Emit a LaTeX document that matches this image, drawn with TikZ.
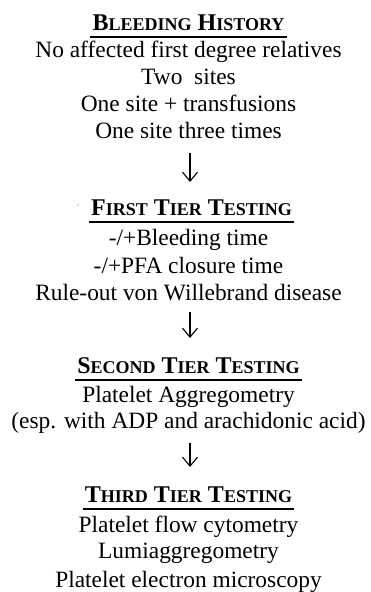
\documentclass[tikz,border=0pt]{standalone}
\usepackage{fontspec}
\setmainfont{Liberation Serif}
\newfontfamily\tnr{Liberation Serif}
\usetikzlibrary{arrows.meta,calc}
\newcommand\hsc[2]{{\fontsize{24}{24}\selectfont #1}{\fontsize{18}{18}\selectfont #2}}
\begin{document}
\begin{tikzpicture}[x=1pt,y=-1pt,
  body/.style={anchor=base,inner sep=0pt,font=\tnr\fontsize{23.4}{27}\selectfont},
  head/.style={anchor=base,inner sep=0pt,font=\tnr\bfseries\fontsize{24}{24}\selectfont},
  uline/.style={line width=2pt},
  arr/.style={-{Straight Barb[length=9pt,width=15pt]},line width=1.1pt}]
\useasboundingbox (0,0) rectangle (371,592);
% block 1
\node[head] (h1) at (188.5,30) {\hsc{B}{LEEDING} \hsc{H}{ISTORY}};
\node[body] (b1a) at (188.5,57) {No affected first degree relatives};
\node[body] (b1b) at (188.5,84) {Two\ \ sites};
\node[body] (b1c) at (188.5,111) {One site + transfusions};
\node[body] (b1d) at (188.5,138) {One site three times};
% block 2
\node[head] (h2) at (191.5,215) {\hsc{F}{IRST} \hsc{T}{IER} \hsc{T}{ESTING}};
\node[body] (b2a) at (188.5,245) {-/+Bleeding time};
\node[body] (b2b) at (188.5,273) {-/+PFA closure time};
\node[body] (b2c) at (188.5,300) {Rule-out von Willebrand disease};
% block 3
\node[head] (h3) at (188.5,373) {\hsc{S}{ECOND} \hsc{T}{IER} \hsc{T}{ESTING}};
\node[body] (b3a) at (188.5,402) {Platelet Aggregometry};
\node[body] (b3b) at (188.5,428) {(esp. with ADP and arachidonic acid)};
% block 4
\node[head] (h4) at (188.5,502) {\hsc{T}{HIRD} \hsc{T}{IER} \hsc{T}{ESTING}};
\node[body] (b4a) at (188.5,532) {Platelet flow cytometry};
\node[body] (b4b) at (188.5,558) {Lumiaggregometry};
\node[body] (b4c) at (188.5,587) {Platelet electron microscopy};
% underlines
\foreach \h in {h1,h2,h3,h4}
  \draw[uline] ([xshift=-2pt,yshift=-6.5pt]\h.base west) -- ([xshift=2pt,yshift=-6.5pt]\h.base east);
% speck
\fill[black!70] (78,205) circle (0.7);
% arrows
\draw[arr] ($(b1d.base)+(1.5,15)$) -- ($(b1d.base |- h2.base)+(1.5,-33)$);
\draw[arr] ($(b2c.base)+(1.5,12)$) -- ($(b2c.base |- h3.base)+(1.5,-35)$);
\draw[arr] ($(b3b.base)+(1.5,15)$) -- ($(b3b.base |- h4.base)+(1.5,-35)$);
\end{tikzpicture}
\end{document}
